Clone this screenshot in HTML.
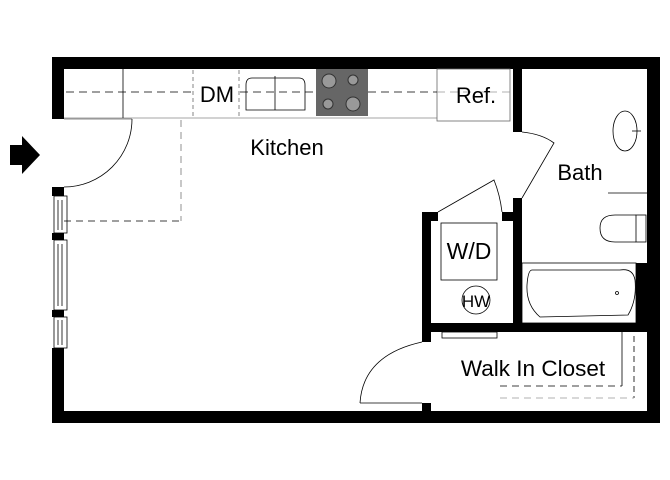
<!DOCTYPE html>
<html><head><meta charset="utf-8"><style>
html,body{margin:0;padding:0;background:#fff;width:670px;height:480px;overflow:hidden}
svg{display:block}
text{font-family:"Liberation Sans",sans-serif;fill:#000}
</style></head><body>
<svg width="670" height="480" viewBox="0 0 670 480">
<g fill="#000">
<rect x="52" y="57" width="608" height="12"/>
<rect x="647" y="57" width="13" height="366"/>
<rect x="52" y="411" width="608" height="12"/>
<rect x="52" y="57" width="12" height="62"/>
<rect x="52" y="187" width="12" height="9"/>
<rect x="52" y="233" width="12" height="7"/>
<rect x="52" y="310" width="12" height="7"/>
<rect x="52" y="348" width="12" height="75"/>
<rect x="513" y="69" width="9" height="63"/>
<rect x="513" y="198" width="9" height="125"/>
<rect x="422" y="323" width="225" height="9"/>
<rect x="422" y="212" width="9" height="130"/>
<rect x="422" y="403" width="9" height="10"/>
<rect x="422" y="212" width="16" height="9"/>
<rect x="502" y="212" width="11" height="9"/>
<rect x="636" y="263" width="11" height="60"/>
<polygon points="10,145 22,145 22,136 40,155 22,174 22,165 10,165"/>
</g>
<g fill="none" stroke="#000" stroke-width="0.8">
<rect x="54" y="196" width="13" height="37"/><line x1="58" y1="200" x2="58" y2="230"/><line x1="62" y1="200" x2="62" y2="230"/>
<rect x="54" y="240" width="13" height="70"/><line x1="58" y1="244" x2="58" y2="306"/><line x1="62" y1="244" x2="62" y2="306"/>
<rect x="54" y="317" width="13" height="31"/><line x1="58" y1="320" x2="58" y2="345"/><line x1="62" y1="320" x2="62" y2="345"/>
</g>
<g fill="none" stroke="#000" stroke-width="0.8">
<line x1="64" y1="118" x2="437" y2="118" stroke="#888"/>
<line x1="123" y1="69" x2="123" y2="118"/>
<rect x="437" y="69" width="73" height="52" stroke="#666"/>
<path d="M246,110 V85 Q246,78 252,78 H299 Q305,78 305,85 V110 Z"/>
<line x1="275" y1="76" x2="275" y2="110"/>
<line x1="66" y1="92" x2="192" y2="92" stroke-dasharray="8,5"/>
<line x1="240" y1="92" x2="316" y2="92" stroke-dasharray="8,5"/>
<line x1="368" y1="92" x2="437" y2="92" stroke-dasharray="8,5"/>
<line x1="437" y1="92" x2="510" y2="92" stroke-dasharray="8,5" stroke="#999"/>
<line x1="193" y1="70" x2="193" y2="116" stroke-dasharray="4,3" stroke="#666"/>
<line x1="239" y1="70" x2="239" y2="116" stroke-dasharray="4,3" stroke="#666"/>
<line x1="181" y1="120" x2="181" y2="221" stroke-dasharray="7,5" stroke="#777"/>
<line x1="64" y1="221" x2="181" y2="221" stroke-dasharray="7,5"/>
<line x1="64" y1="119" x2="132" y2="119" stroke="#666"/>
<path d="M132,119 A68,68 0 0 1 64,187"/>
</g>
<rect x="316" y="69" width="52" height="47" fill="#666"/>
<g fill="#999" stroke="#333" stroke-width="1">
<circle cx="329" cy="81" r="7"/><circle cx="353" cy="80" r="5"/>
<circle cx="328" cy="104" r="5"/><circle cx="353" cy="104" r="7"/>
</g>
<g fill="none" stroke="#000" stroke-width="0.8">
<path d="M522,132 Q542,134 554,143 L522,198"/>
<path d="M438,212 L494,180 Q500,195 502,212"/>
<ellipse cx="625" cy="131" rx="12" ry="20"/>
<line x1="632" y1="131" x2="641" y2="131"/>
<line x1="608" y1="193" x2="647" y2="193"/>
<path d="M636,215 H615 Q600,215 600,228 Q600,242 615,242 H636"/>
<rect x="636" y="215" width="10" height="27"/>
<rect x="522" y="263" width="114" height="60"/>
<path d="M532,270 Q528,270 527,285 Q526,305 540,317 L628,315 Q637,300 635,280 Q633,268 620,270 Z"/>
<circle cx="617" cy="293" r="1.5"/>
<rect x="441" y="223" width="56" height="57"/>
<circle cx="476" cy="300" r="14"/>
<rect x="442" y="332" width="55" height="6"/>
<path d="M360,403 Q363,355 422,342"/>
<line x1="360" y1="403" x2="422" y2="403"/>
<line x1="622" y1="332" x2="622" y2="386"/>
<line x1="500" y1="386" x2="622" y2="386" stroke-dasharray="7,5"/>
<line x1="634" y1="336" x2="634" y2="398" stroke-dasharray="6,4"/>
<line x1="500" y1="398" x2="634" y2="398" stroke-dasharray="7,5" stroke="#999"/>
</g>
<text x="217" y="102" font-size="22" text-anchor="middle">DM</text>
<text x="476" y="103" font-size="22" text-anchor="middle">Ref.</text>
<text x="287" y="155" font-size="22" text-anchor="middle">Kitchen</text>
<text x="580" y="180" font-size="22" text-anchor="middle">Bath</text>
<text x="469" y="259" font-size="23" text-anchor="middle">W/D</text>
<text x="476" y="307" font-size="17" text-anchor="middle">HW</text>
<text x="533" y="376" font-size="22.5" text-anchor="middle">Walk In Closet</text>
</svg>
</body></html>
